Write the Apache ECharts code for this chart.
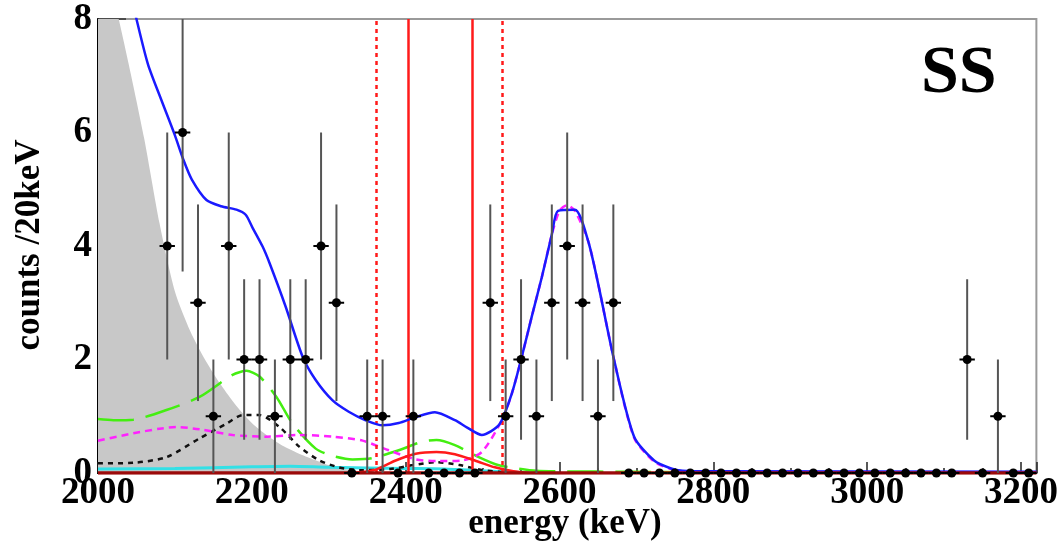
<!DOCTYPE html>
<html><head><meta charset="utf-8">
<script src="https://cdn.jsdelivr.net/npm/echarts@6/dist/echarts.min.js"></script>
<style>html,body{margin:0;padding:0;background:#fff}#c{width:1061px;height:549px}</style>
</head><body><div id="c"></div>
<script>
// ---- data ----
const xMin = 2000, xMax = 3220, yMin = 0, yMax = 8;
const xTickLabels = [2000, 2200, 2400, 2600, 2800, 3000, 3200];
const yTickLabels = [0, 2, 4, 6, 8];

const binEnergy = [2090,2110,2130,2150,2170,2190,2210,2230,2250,2270,2290,2310,2330,2350,2370,2390,2410,2430,2450,2470,2490,
  2510,2530,2550,2570,2590,2610,2630,2650,2670,2690,2710,2730,2750,2770,2790,2810,2830,2850,2870,2890,2910,2930,2950,2970,2990,
  3010,3030,3050,3070,3090,3110,3130,3150,3170,3190,3210];
const binCounts = [4,6,3,1,4,2,2,1,2,2,4,3,0,1,1,0,1,0,0,0,0,
  3,1,2,1,3,4,3,1,3,0,0,0,0,0,0,0,0,0,0,0,0,0,0,0,0,
  0,0,0,0,0,0,2,0,1,0,0];
const binHalfWidth = 10;

// grey filled component
const greyCurve = [[2000,9.4],[2020,8.4],[2040,7.2],[2060,5.9],[2080,4.4],[2100,3.2],[2120,2.5],[2140,1.98],[2160,1.55],
  [2180,1.18],[2200,0.88],[2220,0.66],[2240,0.48],[2260,0.35],[2280,0.24],[2300,0.14],[2320,0.07],[2340,0.03],[2360,0.01],[2380,0]];
// total fit (blue)
const blueCurve = [[2040,8.6],[2050,8.0],[2065,7.2],[2083,6.55],[2100,5.95],[2111,5.52],[2122,5.17],[2141,4.81],[2160,4.70],
  [2180,4.64],[2192,4.55],[2201,4.32],[2214,3.99],[2223,3.70],[2244,2.93],[2266,2.05],[2283,1.64],[2305,1.28],[2326,1.08],
  [2348,0.93],[2370,0.84],[2391,0.88],[2412,0.98],[2438,1.07],[2464,0.93],[2480,0.80],[2499,0.67],[2522,0.86],[2538,1.40],
  [2551,2.05],[2564,2.76],[2577,3.45],[2590,4.20],[2598,4.62],[2620,4.64],[2637,4.10],[2650,3.35],[2671,1.99],[2697,0.64],
  [2723,0.22],[2745,0.08],[2760,0.04],[2800,0.03],[3220,0.02]];
// magenta short dashes
const magentaCurve = [[2000,0.57],[2046,0.70],[2080,0.78],[2102,0.81],[2132,0.77],[2175,0.67],[2219,0.64],[2262,0.67],[2305,0.64],
  [2344,0.57],[2378,0.40],[2413,0.24],[2443,0.21],[2473,0.22],[2499,0.37],[2525,0.93],[2538,1.40],[2551,2.05],[2564,2.76],
  [2577,3.45],[2590,4.20],[2600,4.62],[2610,4.72],[2620,4.62],[2637,4.10],[2650,3.35],[2671,1.99],[2697,0.62],[2723,0.20],
  [2745,0.07],[2760,0.03],[2800,0.02],[3220,0.01]];
// green long dashes
const greenCurve = [[2000,0.95],[2020,0.93],[2046,0.94],[2089,1.11],[2132,1.34],[2175,1.73],[2193,1.80],[2210,1.70],[2232,1.34],
  [2253,0.87],[2283,0.43],[2305,0.30],[2331,0.24],[2356,0.26],[2391,0.40],[2421,0.55],[2440,0.58],[2464,0.49],[2495,0.28],
  [2520,0.14],[2546,0.08],[2570,0.04],[2600,0.03],[2700,0.02],[2780,0.01]];
// black dotted
const blackCurve = [[2000,0.17],[2046,0.18],[2089,0.28],[2132,0.61],[2167,0.87],[2188,1.02],[2210,1.02],[2236,0.81],[2262,0.46],
  [2288,0.22],[2313,0.10],[2340,0.05],[2380,0.07],[2410,0.14],[2440,0.19],[2470,0.14],[2500,0.05],[2530,0.01]];
// cyan
const cyanCurve = [[2000,0.07],[2100,0.08],[2200,0.11],[2250,0.12],[2300,0.10],[2400,0.08],[2450,0.07],[2500,0.04],[2550,0.01],[2600,0]];
// red signal
const redCurve = [[2330,0],[2361,0.06],[2387,0.22],[2413,0.34],[2440,0.37],[2464,0.33],[2490,0.22],[2516,0.10],[2540,0.03],[2560,0]];
// dark red baseline component
const baseCurve = [[2000,0],[3220,0]];
// ROI lines
const roiSolid = [2403, 2486];
const roiDotted = [2362, 2526];
const panelLabel = 'SS';

// ---- chart ----
const serif = 'Liberation Serif';
const chart = echarts.init(document.getElementById('c'), null, {renderer: 'canvas'});

function curve(data, color, width, type, z) {
  return {type: 'line', data: data, showSymbol: false, smooth: 0.25, z: z, silent: true,
    lineStyle: {color: color, width: width, type: type}};
}

const roiLines = [];
roiSolid.forEach(v => roiLines.push({xAxis: v, lineStyle: {color: '#ff1a1a', width: 2.5, type: 'solid'}}));
roiDotted.forEach(v => roiLines.push({xAxis: v, lineStyle: {color: '#ff1a1a', width: 2.5, type: [4, 4]}}));

chart.setOption({
  animation: false,
  grid: {left: 98, right: 20, top: 19, bottom: 76, show: true, borderColor: '#9a9a9a', borderWidth: 2},
  xAxis: {type: 'value', min: xMin, max: xMax, interval: 200,
    axisLine: {show: true, onZero: false, lineStyle: {color: '#000', width: 2}},
    axisTick: {show: true, inside: true, length: 11, lineStyle: {color: '#222', width: 1.5}},
    minorTick: {show: true, splitNumber: 4, length: 5, lineStyle: {color: '#222', width: 1.5}},
    splitLine: {show: false},
    axisLabel: {formatter: v => xTickLabels.indexOf(v) >= 0 ? String(v) : '', color: '#000',
      fontFamily: serif, fontWeight: 'bold', fontSize: 37, margin: 2}
  },
  yAxis: {type: 'value', min: yMin, max: yMax, interval: 1,
    axisLine: {show: true, lineStyle: {color: '#000', width: 2}},
    axisTick: {show: true, inside: true, length: 28, lineStyle: {color: '#333', width: 1.5}},
    minorTick: {show: true, splitNumber: 5, length: 14, lineStyle: {color: '#333', width: 1.5}},
    splitLine: {show: false},
    axisLabel: {formatter: v => yTickLabels.indexOf(v) >= 0 ? String(v) : '', color: '#000',
      fontFamily: serif, fontWeight: 'bold', fontSize: 37, margin: 6}
  },
  graphic: [
    {type: 'text', left: 921, top: 40, style: {text: panelLabel, font: 'bold 68px "Liberation Serif"', fill: '#000'}},
    {type: 'text', x: 565, y: 524, style: {text: 'energy (keV)', font: 'bold 35px "Liberation Serif"', fill: '#000',
      textAlign: 'center', textVerticalAlign: 'middle'}},
    {type: 'text', x: 30, y: 245, rotation: Math.PI / 2, style: {text: 'counts /20keV', font: 'bold 35px "Liberation Serif"', fill: '#000',
      textAlign: 'center', textVerticalAlign: 'middle'}}
  ],
  series: [
    {type: 'line', data: greyCurve, showSymbol: false, smooth: 0.25, z: 1, silent: true,
      lineStyle: {width: 0}, areaStyle: {color: '#c8c8c8', opacity: 1}},
    curve(cyanCurve, '#33e0e6', 3, 'solid', 2),
    curve(blackCurve, '#111', 2.5, [5, 5], 3),
    curve(greenCurve, '#44ee11', 2.5, [36, 12], 3),
    curve(magentaCurve, '#ff22ff', 2.5, [7, 5], 4),
    curve(redCurve, '#ff1a1a', 2.5, 'solid', 4),
    curve(blueCurve, '#1a1aff', 2.5, 'solid', 5),
    {type: 'line', data: baseCurve, showSymbol: false, z: 6, silent: true,
      lineStyle: {color: '#9b0a0a', width: 3.5},
      markLine: {silent: true, symbol: 'none', label: {show: false}, data: roiLines}},
    {type: 'custom', z: 10, silent: true, clip: false,
      data: binEnergy.map((e, i) => [e, binCounts[i]]),
      renderItem: function (params, api) {
        const e = api.value(0), n = api.value(1);
        const err = Math.sqrt(n);
        const p = api.coord([e, n]);
        const top = api.coord([e, Math.min(n + err, yMax)]);
        const bot = api.coord([e, Math.max(n - err, yMin)]);
        const l = api.coord([e - binHalfWidth, n]);
        const r = api.coord([e + binHalfWidth, n]);
        const ch = [];
        if (n > 0) ch.push({type: 'line', shape: {x1: p[0], y1: top[1], x2: p[0], y2: bot[1]},
          style: {stroke: '#555', lineWidth: 2}});
        ch.push({type: 'line', shape: {x1: l[0], y1: p[1], x2: r[0], y2: p[1]}, style: {stroke: '#000', lineWidth: 2}});
        ch.push({type: 'circle', shape: {cx: p[0], cy: p[1], r: 4.5}, style: {fill: '#000'}});
        return {type: 'group', children: ch};
      }}
  ]
});
</script></body></html>
